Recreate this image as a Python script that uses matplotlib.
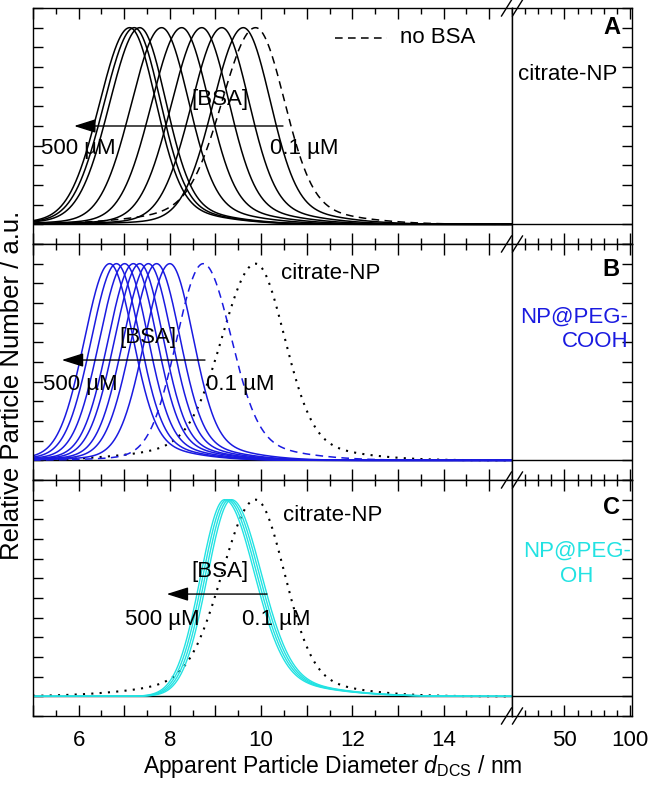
import numpy as np
import matplotlib
matplotlib.use('Agg')
import matplotlib.pyplot as plt
from matplotlib.ticker import MultipleLocator, FixedLocator, FuncFormatter, NullFormatter
from matplotlib.lines import Line2D

plt.rcParams['font.family'] = ['Liberation Sans', 'DejaVu Sans']
plt.rcParams['mathtext.fontset'] = 'custom'
plt.rcParams['mathtext.it'] = 'Liberation Sans:italic'
plt.rcParams['mathtext.rm'] = 'Liberation Sans'

# ---------------- data ----------------
# Peak positions (nm) and left/right widths (nm) of each size distribution
peaks_A = [7.12, 7.22, 7.34, 7.82, 8.26, 8.70, 9.14, 9.61]
sl_A = [0.66, 0.66, 0.66, 0.66, 0.66, 0.66, 0.66, 0.66]
sr_A = [0.56, 0.56, 0.56, 0.58, 0.58, 0.58, 0.58, 0.58]

citrate_peak = 9.88
citrate_sl = 0.72
citrate_sr = 0.62

peaks_B = [6.68, 6.83, 7.01, 7.20, 7.34, 7.53, 7.71, 8.00]
sl_B = [0.55, 0.55, 0.55, 0.55, 0.55, 0.55, 0.55, 0.55]
sr_B = [0.50, 0.50, 0.50, 0.50, 0.50, 0.50, 0.50, 0.50]
peakB_low = 8.73
slB_low = 0.58
srB_low = 0.60

peaks_C = [9.20, 9.25, 9.30, 9.35]
sl_C = [0.53, 0.53, 0.53, 0.53]
sr_C = [0.64, 0.64, 0.64, 0.64]

xticks_left = [6, 8, 10, 12, 14]
xticks_right = [50, 100]

BLUE = '#1a1ae0'
CYAN = '#22e2e2'


def profile(x, c, sl, sr, tail_r=0.10, tail_l=0.03):
    u = x - c
    left = (1 - tail_l) * np.exp(-0.5 * (u / sl) ** 2) + tail_l * np.exp(-0.5 * (u / (2.5 * sl)) ** 2)
    right = (1 - tail_r) * np.exp(-0.5 * (u / sr) ** 2) + tail_r * np.exp(-0.5 * (u / (2.5 * sr)) ** 2)
    return np.where(u < 0, left, right)


W, H = 653, 785
fig = plt.figure(figsize=(W / 100, H / 100), dpi=100)

xL0, xB, xR1 = 33, 512, 632
tops = [8, 244, 480]
ph = 236

axes = []
for t in tops:
    axL = fig.add_axes([xL0 / W, 1 - (t + ph) / H, (xB - xL0) / W, ph / H])
    axR = fig.add_axes([xB / W, 1 - (t + ph) / H, (xR1 - xB) / W, ph / H])
    axes.append((axL, axR))

x = np.linspace(5, 15.5, 1200)

for i, (axL, axR) in enumerate(axes):
    axL.set_xlim(5, 15.5)
    axR.set_xlim(10, 101.5)
    for ax in (axL, axR):
        ax.set_ylim(-0.1, 1.1)
        ax.axhline(0, color='black', lw=1.0, zorder=1)
        ax.yaxis.set_major_locator(MultipleLocator(0.1))
        ax.yaxis.set_major_formatter(NullFormatter())
        for sp in ax.spines.values():
            sp.set_linewidth(1.0)
    axL.xaxis.set_major_locator(MultipleLocator(1))
    axL.xaxis.set_minor_locator(MultipleLocator(0.5))
    axL.xaxis.set_major_formatter(FuncFormatter(lambda v, p: '%d' % v if int(round(v)) in xticks_left else ''))
    axR.xaxis.set_major_locator(FixedLocator(xticks_right))
    axR.xaxis.set_minor_locator(FixedLocator([20, 30, 40, 60, 70, 80, 90]))
    axR.xaxis.set_major_formatter(FuncFormatter(lambda v, p: '%d' % v))
    axL.tick_params(axis='both', which='major', direction='in', length=8, width=1.0,
                    top=True, bottom=True, left=True, right=False, labelsize=16)
    axL.tick_params(axis='both', which='minor', direction='in', length=4, width=1.0,
                    top=True, bottom=True)
    axR.tick_params(axis='both', which='major', direction='in', length=8, width=1.0,
                    top=True, bottom=True, left=False, right=True, labelsize=16)
    axR.tick_params(axis='both', which='minor', direction='in', length=4, width=1.0,
                    top=True, bottom=True)
    axL.tick_params(axis='y', length=7)
    axR.tick_params(axis='y', length=7)
    if i < 2:
        axL.tick_params(labelbottom=False)
        axR.tick_params(labelbottom=False)
    axL.tick_params(axis='x', pad=10)
    axR.tick_params(axis='x', pad=10)

arrow_kw = dict(arrowstyle='-|>,head_length=0.95,head_width=0.3', color='black', lw=1.0,
                mutation_scale=14, shrinkA=0, shrinkB=0)
fs = 16

# ---- panel A ----
axL, axR = axes[0]
for c, a, b in zip(peaks_A, sl_A, sr_A):
    axL.plot(x, profile(x, c, a, b), color='black', lw=1.1)
axL.plot(x, profile(x, citrate_peak, citrate_sl, citrate_sr, 0.10, 0.10), color='black', lw=1.1,
         ls=(0, (5, 3.5)))
axL.annotate('', xy=(5.9, 0.5), xytext=(10.48, 0.5), arrowprops=arrow_kw)
axL.text(9.1, 0.635, '[BSA]', ha='center', va='center', fontsize=fs)
axL.text(6.0, 0.385, '500 \u00b5M', ha='center', va='center', fontsize=fs)
axL.text(10.95, 0.385, '0.1 \u00b5M', ha='center', va='center', fontsize=fs)
axL.add_line(Line2D([11.63, 12.77], [0.95, 0.95], color='black', lw=1.1, ls=(0, (5, 3.5))))
axL.text(13.05, 0.95, 'no BSA', ha='left', va='center', fontsize=fs)
axR.text(0.9, 1.0, 'A', transform=axR.get_yaxis_transform(), ha='right', va='center',
         fontsize=fs + 1, fontweight='bold')
axR.text(0.46, 0.76, 'citrate-NP', transform=axR.get_yaxis_transform(), ha='center', va='center',
         fontsize=fs)

# ---- panel B ----
axL, axR = axes[1]
axL.plot(x, profile(x, citrate_peak, citrate_sl, citrate_sr, 0.10, 0.10), color='black', lw=1.5,
         ls=(0, (1, 3)))
axL.plot(x, profile(x, peakB_low, slB_low, srB_low), color=BLUE, lw=1.1, ls=(0, (5, 3.5)))
for c, a, b in zip(peaks_B, sl_B, sr_B):
    axL.plot(x, profile(x, c, a, b), color=BLUE, lw=1.1)
axL.annotate('', xy=(5.63, 0.51), xytext=(8.77, 0.51), arrowprops=arrow_kw)
axL.text(7.52, 0.625, '[BSA]', ha='center', va='center', fontsize=fs)
axL.text(6.03, 0.385, '500 \u00b5M', ha='center', va='center', fontsize=fs)
axL.text(9.55, 0.385, '0.1 \u00b5M', ha='center', va='center', fontsize=fs)
axL.text(11.52, 0.95, 'citrate-NP', ha='center', va='center', fontsize=fs)
axR.text(0.9, 0.97, 'B', transform=axR.get_yaxis_transform(), ha='right', va='center',
         fontsize=fs + 1, fontweight='bold')
axR.text(0.97, 0.665, 'NP@PEG-\nCOOH', transform=axR.get_yaxis_transform(), ha='right', va='center',
         multialignment='right', fontsize=fs, color=BLUE, linespacing=1.2)

# ---- panel C ----
axL, axR = axes[2]
axL.plot(x, profile(x, citrate_peak, citrate_sl, citrate_sr, 0.10, 0.10), color='black', lw=1.5,
         ls=(0, (1, 3)))
for c, a, b in zip(peaks_C, sl_C, sr_C):
    axL.plot(x, profile(x, c, a, b, 0.10, 0.0), color=CYAN, lw=1.0)
axL.annotate('', xy=(7.93, 0.52), xytext=(10.13, 0.52), arrowprops=arrow_kw)
axL.text(9.1, 0.635, '[BSA]', ha='center', va='center', fontsize=fs)
axL.text(7.83, 0.39, '500 \u00b5M', ha='center', va='center', fontsize=fs)
axL.text(10.33, 0.39, '0.1 \u00b5M', ha='center', va='center', fontsize=fs)
axL.text(10.48, 0.92, 'citrate-NP', ha='left', va='center', fontsize=fs)
axR.text(0.9, 0.96, 'C', transform=axR.get_yaxis_transform(), ha='right', va='center',
         fontsize=fs + 1, fontweight='bold')
axR.text(0.54, 0.675, 'NP@PEG-\nOH', transform=axR.get_yaxis_transform(), ha='center', va='center',
         multialignment='center', fontsize=fs, color=CYAN, linespacing=1.25)

fig.text(333 / W, 1 - 767 / H, 'Apparent Particle Diameter $\\mathit{d}_{\\mathrm{DCS}}$ / nm',
         ha='center', va='center', fontsize=16.5)

fig.text(12 / W, 1 - 385 / H, 'Relative Particle Number / a.u.', rotation=90, ha='center', va='center',
         fontsize=18.5)

# break marks
for yb in [8, 244, 480, 716]:
    for x0 in [506.5, 517.5]:
        fig.add_artist(Line2D([(x0 - 5) / W, (x0 + 5) / W], [1 - (yb + 8) / H, 1 - (yb - 8) / H],
                              color='black', lw=1.0, transform=fig.transFigure))

fig.savefig('out.png', dpi=100)
